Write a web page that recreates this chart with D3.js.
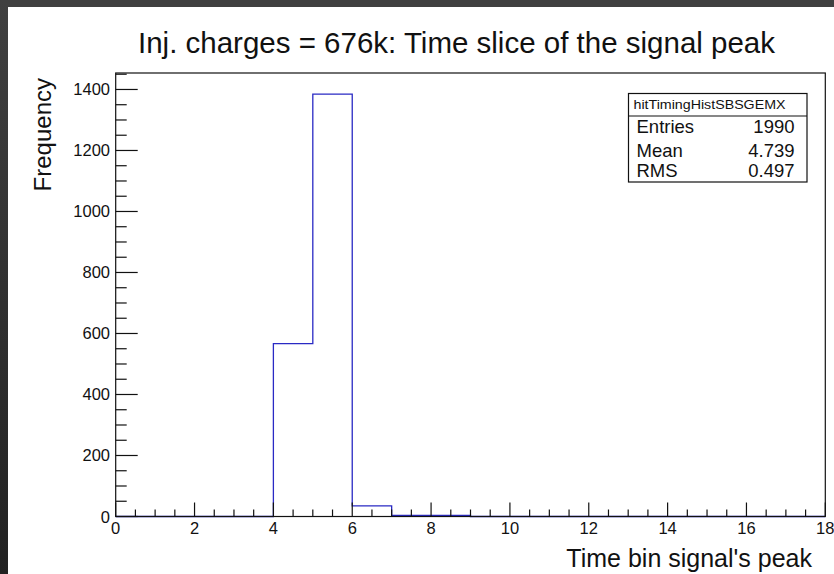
<!DOCTYPE html>
<html><head><meta charset="utf-8">
<script src="https://cdn.jsdelivr.net/npm/d3@7"></script>
<style>html,body{margin:0;padding:0;background:#fff;overflow:hidden}svg{display:block}text{font-family:"Liberation Sans",Arial,Helvetica,sans-serif}</style>
</head><body>
<script>
// ---- data ----
const binEdges = [0,1,2,3,4,5,6,7,8,9,10,11,12,13,14,15,16,17,18];
const binCounts = [0,0,0,0,567,1385,35,4,4,0,0,0,0,0,0,0,0,0];
const xTicks = [0,2,4,6,8,10,12,14,16,18];
const yTicks = [0,200,400,600,800,1000,1200,1400];
const xDomain = [0,18];
const yDomain = [0,1454];
const titleText = "Inj. charges = 676k: Time slice of the signal peak";
const xTitle = "Time bin signal's peak";
const yTitle = "Frequency";
const statsName = "hitTimingHistSBSGEMX";
const statsLabels = ["Entries","Mean","RMS"];
const statsValues = ["1990","4.739","0.497"];

const W = 834, H = 574;
const svg = d3.select("body").append("svg").attr("width", W).attr("height", H);

// outer dark frame
const defs = svg.append("defs");
const g1 = defs.append("linearGradient").attr("id","lg").attr("x1",0).attr("y1",0).attr("x2",0).attr("y2",1);
g1.append("stop").attr("offset","0%").attr("stop-color","#404040");
g1.append("stop").attr("offset","100%").attr("stop-color","#222222");
svg.append("rect").attr("x",0).attr("y",0).attr("width",W).attr("height",H).attr("fill","#fff");
svg.append("rect").attr("x",0).attr("y",0).attr("width",W).attr("height",7).attr("fill","#404040");
svg.append("rect").attr("x",0).attr("y",0).attr("width",8).attr("height",H).attr("fill","url(#lg)");

const x = d3.scaleLinear().domain(xDomain).range([115.7, 825.3]);
const y = d3.scaleLinear().domain(yDomain).range([516.5, 73]);

// histogram outline
const pts = [[binEdges[0], 0]];
binCounts.forEach((c, i) => { pts.push([binEdges[i], c]); pts.push([binEdges[i+1], c]); });
pts.push([binEdges[binEdges.length-1], 0]);
svg.append("path")
  .attr("d", d3.line().x(d => x(d[0])).y(d => y(d[1]))(pts))
  .attr("fill","none").attr("stroke","#2a2ac4").attr("stroke-width",1.3);

// frame
svg.append("rect").attr("x", x(xDomain[0])).attr("y", y(yDomain[1]))
  .attr("width", x(xDomain[1]) - x(xDomain[0])).attr("height", y(yDomain[0]) - y(yDomain[1]))
  .attr("fill","none").attr("stroke","#111").attr("stroke-width",1.2);

// x axis ticks (inside, pointing up)
const xMinor = d3.range(0, 18.001, 0.5);
const gx = svg.append("g");
gx.selectAll("line.minor").data(xMinor).join("line")
  .attr("x1", d => x(d)).attr("x2", d => x(d))
  .attr("y1", y(0)).attr("y2", d => y(0) - (d % 2 === 0 ? 14 : 7))
  .attr("stroke","#111").attr("stroke-width",1.2);
gx.selectAll("text").data(xTicks).join("text")
  .attr("x", d => x(d)).attr("y", 534)
  .attr("text-anchor","middle").attr("font-size","16.5px").attr("fill","#111")
  .text(d => d);

// y axis ticks (inside, pointing right)
const yMinor = d3.range(0, 1454, 50);
const gy = svg.append("g");
gy.selectAll("line").data(yMinor).join("line")
  .attr("x1", x(0)).attr("x2", d => x(0) + (d % 200 === 0 ? 22 : 11))
  .attr("y1", d => y(d)).attr("y2", d => y(d))
  .attr("stroke","#111").attr("stroke-width",1.2);
gy.selectAll("text").data(yTicks).join("text")
  .attr("x", 110).attr("y", d => y(d) + 6)
  .attr("text-anchor","end").attr("font-size","16.5px").attr("fill","#111")
  .text(d => d);

// titles
svg.append("text").attr("x", 456.5).attr("y", 53).attr("text-anchor","middle")
  .attr("font-size","29.5px").attr("fill","#111").text(titleText);
svg.append("text").attr("x", 812).attr("y", 567).attr("text-anchor","end")
  .attr("font-size","25px").attr("fill","#111").text(xTitle);
svg.append("text").attr("transform","translate(51,78) rotate(-90)").attr("text-anchor","end")
  .attr("font-size","24px").attr("fill","#111").text(yTitle);

// stats box
const sb = svg.append("g");
sb.append("rect").attr("x",628.5).attr("y",93.5).attr("width",178.5).attr("height",88.5)
  .attr("fill","#fff").attr("stroke","#111").attr("stroke-width",1.2);
sb.append("line").attr("x1",628.5).attr("x2",807).attr("y1",116).attr("y2",116)
  .attr("stroke","#111").attr("stroke-width",1.2);
sb.append("text").attr("x",633.5).attr("y",108.5)
  .attr("font-size","12.5px").attr("fill","#111")
  .attr("textLength",152).attr("lengthAdjust","spacingAndGlyphs").text(statsName);
const rowY = [133.3, 156.7, 177.3];
statsLabels.forEach((l, i) => {
  sb.append("text").attr("x",636.5).attr("y",rowY[i]).attr("font-size","18.5px").attr("fill","#111").text(l);
  sb.append("text").attr("x",794.5).attr("y",rowY[i]).attr("text-anchor","end").attr("font-size","18.5px").attr("fill","#111").text(statsValues[i]);
});
</script>
</body></html>
